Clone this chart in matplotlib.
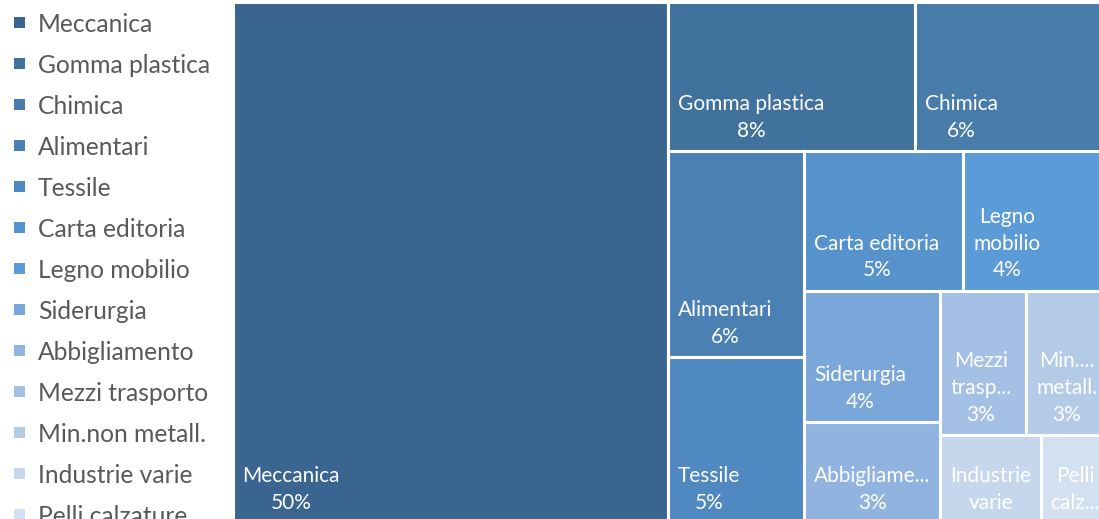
import matplotlib
matplotlib.use("Agg")
import matplotlib.pyplot as plt
from matplotlib.patches import Rectangle

plt.rcParams['font.family'] = ['Lato', 'DejaVu Sans']

# Share of companies by industrial sector (%)
sectors = ["Meccanica", "Gomma plastica", "Chimica", "Alimentari", "Tessile",
           "Carta editoria", "Legno mobilio", "Siderurgia", "Abbigliamento",
           "Mezzi trasporto", "Min.non metall.", "Industrie varie", "Pelli calzature"]
shares = [49.74, 8.12, 6.32, 6.14, 4.97, 4.85, 4.41, 3.91, 3.01, 2.72, 2.58, 1.93, 1.30]
# Labels as they fit inside the tiles
tile_labels = ["Meccanica", "Gomma plastica", "Chimica", "Alimentari", "Tessile",
               "Carta editoria", "Legno\nmobilio", "Siderurgia", "Abbigliame...",
               "Mezzi\ntrasp...", "Min....\nmetall.", "Industrie\nvarie", "Pelli\ncalz..."]
colors = ["#3A6590", "#41719D", "#477CAB", "#4A80B4", "#5089C2", "#5693CC",
          "#5B9BD7", "#79A7DA", "#90B3DF", "#A4C0E4", "#B4CBE8", "#C5D6ED", "#D3E0F1"]

FIG_W, FIG_H, DPI = 1099, 519, 100
fig = plt.figure(figsize=(FIG_W / DPI, FIG_H / DPI), dpi=DPI)
fig.patch.set_facecolor("white")


def squarify(values, x, y, w, h):
    """Squarified layout; a tile joins the current strip while its own
    aspect ratio is no worse than that of the last tile in the strip."""
    total = sum(values)
    areas = [v / total * w * h for v in values]
    rects = []

    def ratios(row, side):
        s = sum(row)
        thick = s / side
        return [max(thick / (a / thick), (a / thick) / thick) for a in row]

    i = 0
    while i < len(areas):
        side = min(w, h)
        row = [areas[i]]
        j = i + 1
        while j < len(areas):
            cur = ratios(row, side)[-1]
            nxt = ratios(row + [areas[j]], side)[-1]
            if nxt <= cur:
                row.append(areas[j])
                j += 1
            else:
                break
        s = sum(row)
        if w >= h:
            cw = s / h
            yy = y
            for a in row:
                rh = a / cw
                rects.append((x, yy, cw, rh))
                yy += rh
            x += cw
            w -= cw
        else:
            rh = s / w
            xx = x
            for a in row:
                rw = a / rh
                rects.append((xx, y, rw, rh))
                xx += rw
            y += rh
            h -= rh
        i = j
    return rects


# Treemap area (in pixels, extends slightly past the canvas)
TM_L, TM_T, TM_W, TM_H = 232.5, 1.5, 875.5, 522.0
ax = fig.add_axes([TM_L / FIG_W, (FIG_H - TM_T - TM_H) / FIG_H, TM_W / FIG_W, TM_H / FIG_H])
ax.set_xlim(0, TM_W)
ax.set_ylim(TM_H, 0)
ax.axis("off")

tile_fs = 15.0      # points
line_px = 27.0
for (x, y, w, h), lab, val, col in zip(squarify(shares, 0, 0, TM_W, TM_H), tile_labels, shares, colors):
    ax.add_patch(Rectangle((x, y), w, h, facecolor=col, edgecolor="white",
                           linewidth=2.2, clip_on=False))
    n_lines = lab.count("\n") + 1
    needed = (n_lines + 1) * line_px + 30
    text = f"{lab}\n{val:.0f}%" if needed <= h else lab
    ax.annotate(text, xy=(x, y + h), xytext=(7, 7.5), textcoords="offset points",
                ha="left", va="bottom", multialignment="center",
                fontsize=tile_fs, color="white", linespacing=1.43,
                annotation_clip=False)

# Legend
lax = fig.add_axes([0, 0, TM_L / FIG_W, 1])
lax.set_xlim(0, TM_L)
lax.set_ylim(FIG_H, 0)
lax.axis("off")
row0, step = 22.5, 41.0
for k, (name, col) in enumerate(zip(sectors, colors)):
    yc = row0 + k * step
    lax.add_patch(Rectangle((14, yc - 5.5), 11, 11, facecolor=col, edgecolor="none"))
    lax.text(38, yc, name, ha="left", va="center_baseline", fontsize=17.7, color="#595959")

fig.savefig("out.png", dpi=DPI, facecolor="white")
